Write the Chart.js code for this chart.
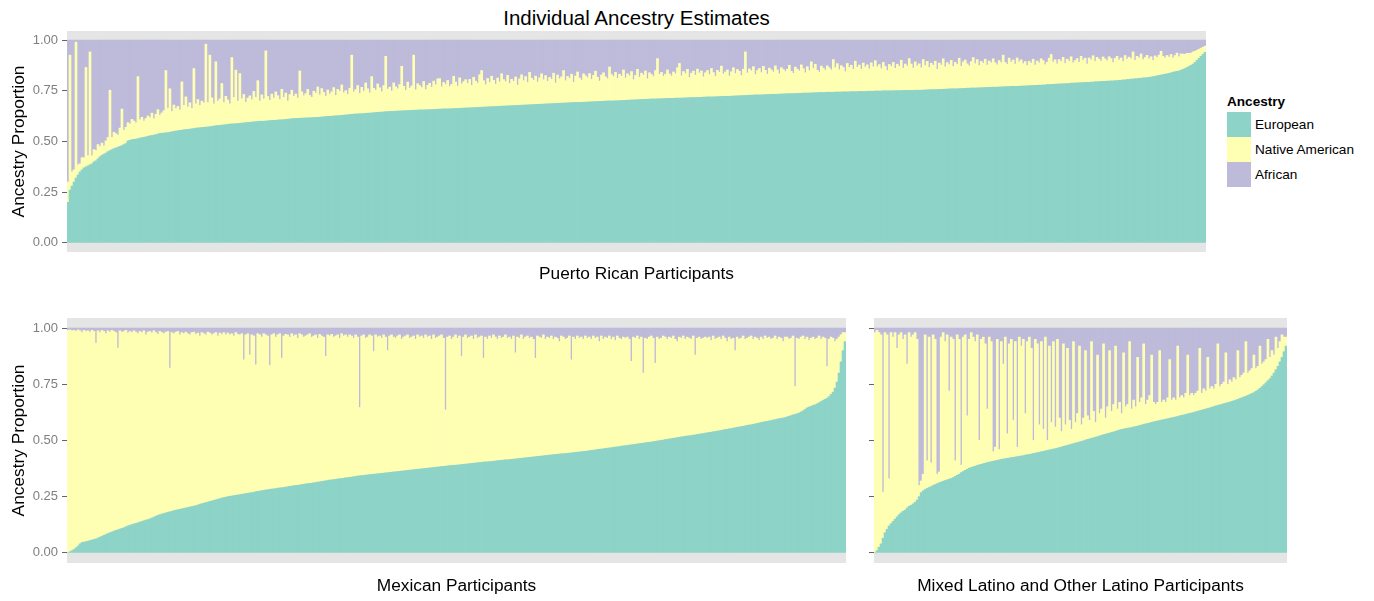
<!DOCTYPE html>
<html><head><meta charset="utf-8">
<script src="https://cdn.jsdelivr.net/npm/chart.js@4/dist/chart.umd.min.js"></script>
<style>
html,body{margin:0;padding:0;background:#fff;width:1374px;height:601px;overflow:hidden;font-family:"Liberation Sans",Arial,sans-serif;}
.box{position:absolute;}
.box canvas{display:block;}
#title{position:absolute;left:0;width:1273px;top:6px;text-align:center;font-size:20.5px;line-height:24px;color:#000;}
.lg{position:absolute;font-size:13.6px;line-height:16px;color:#000;white-space:nowrap;}
.key{position:absolute;left:1227px;width:24px;height:25px;}
</style></head><body>
<div id="title">Individual Ancestry Estimates</div>
<div class="box" style="left:0;top:31px;width:1206px;height:261px"><canvas id="cPR"></canvas></div>
<div class="box" style="left:0;top:318px;width:846px;height:285px"><canvas id="cMX"></canvas></div>
<div class="box" style="left:846px;top:318px;width:441px;height:285px"><canvas id="cML"></canvas></div>
<div id="legend"></div>
<script>
// ---------- DATA ----------
const ancestryLabels = ['European', 'Native American', 'African'];
const ancestryColors = ['#8DD3C7', '#FFFFB3', '#BEBADA'];
const yTickValues = [0, 0.25, 0.5, 0.75, 1];
const panelTitles = ['Puerto Rican Participants', 'Mexican Participants', 'Mixed Latino and Other Latino Participants'];

// Puerto Rican participants (sorted by European ancestry)
const prEuropean = [
.20,.26,.28,.30,.32,.335,.35,.36,.37,.375,.38,.385,.39,.40,.405,.415,.425,.432,.438,.443,
.45,.455,.46,.465,.468,.472,.476,.48,.485,.49,.503,.506,.509,.511,.512,.514,.517,.519,.521,.523,
.526,.528,.53,.532,.534,.537,.54,.541,.542,.543,.544,.546,.548,.55,.552,.553,.555,.556,.558,.559,
.56,.561,.563,.564,.566,.567,.568,.569,.57,.571,.572,.573,.575,.576,.578,.579,.58,.581,.582,.583,
.585,.586,.587,.587,.588,.589,.59,.591,.592,.593,.594,.595,.596,.597,.598,.599,.6,.6,.6,.601,
.602,.603,.604,.604,.605,.606,.607,.607,.608,.609,.61,.611,.613,.613,.614,.614,.615,.615,.616,.616,
.617,.617,.618,.618,.619,.619,.62,.621,.622,.623,.624,.624,.625,.626,.627,.627,.628,.629,.63,.631,
.632,.633,.634,.635,.636,.636,.637,.637,.638,.639,.64,.64,.641,.642,.643,.644,.645,.645,.646,.647,
.648,.648,.649,.649,.65,.65,.651,.651,.652,.652,.653,.653,.654,.654,.655,.655,.656,.656,.656,.656,
.657,.657,.658,.658,.659,.659,.66,.66,.661,.661,.661,.661,.662,.662,.663,.663,.664,.664,.665,.665,
.666,.666,.667,.667,.668,.668,.669,.669,.67,.67,.671,.671,.672,.672,.673,.673,.674,.674,.675,.675,
.676,.676,.677,.677,.678,.678,.679,.679,.68,.68,.681,.681,.682,.682,.683,.683,.684,.684,.685,.685,
.686,.686,.687,.687,.688,.688,.689,.689,.69,.69,.691,.691,.692,.692,.693,.693,.693,.693,.694,.694,
.695,.695,.696,.696,.697,.697,.698,.698,.699,.699,.7,.7,.7,.7,.701,.701,.702,.702,.703,.703,
.704,.704,.705,.705,.706,.706,.707,.707,.708,.708,.709,.709,.71,.71,.71,.71,.711,.711,.712,.712,
.713,.713,.713,.713,.714,.714,.714,.714,.715,.715,.716,.716,.717,.717,.717,.717,.718,.718,.719,.719,
.72,.72,.72,.72,.721,.721,.722,.722,.723,.723,.723,.723,.724,.724,.725,.725,.726,.726,.727,.727,
.728,.728,.729,.729,.73,.73,.73,.73,.731,.731,.732,.732,.733,.733,.733,.733,.734,.734,.735,.735,
.736,.736,.736,.736,.737,.737,.738,.738,.739,.739,.739,.739,.74,.74,.741,.741,.742,.742,.742,.742,
.743,.743,.743,.743,.744,.744,.744,.744,.745,.745,.745,.745,.746,.746,.746,.746,.747,.747,.747,.747,
.748,.748,.748,.748,.749,.749,.749,.749,.75,.75,.75,.75,.75,.75,.751,.751,.751,.751,.752,.752,
.752,.752,.752,.752,.753,.753,.753,.753,.754,.754,.755,.755,.756,.756,.756,.756,.757,.757,.758,.758,
.759,.759,.76,.76,.76,.76,.761,.761,.762,.762,.763,.763,.764,.764,.764,.764,.765,.765,.766,.766,
.767,.767,.768,.768,.768,.768,.769,.769,.77,.77,.771,.771,.772,.772,.772,.772,.773,.773,.774,.774,
.775,.775,.776,.776,.777,.777,.778,.778,.779,.779,.781,.781,.782,.782,.783,.783,.784,.784,.785,.785,
.786,.786,.788,.788,.789,.789,.79,.79,.791,.791,.792,.792,.793,.793,.795,.795,.796,.796,.797,.797,
.798,.798,.799,.799,.8,.8,.802,.802,.804,.804,.806,.806,.808,.808,.81,.81,.812,.812,.814,.814,
.815,.817,.818,.82,.822,.824,.826,.828,.83,.832,.834,.836,.839,.842,.844,.846,.848,.852,.856,.86,
.865,.87,.876,.882,.89,.90,.91,.92,.93,.94];
const prNative = [
.10,.666,.07,.06,.67,.05,.04,.06,.05,.49,.05,.557,.04,.06,.05,.07,.05,.06,.04,.06,
.07,.298,.06,.08,.07,.06,.09,.18,.07,.08,.09,.08,.10,.09,.08,.306,.09,.10,.08,.09,
.10,.09,.11,.08,.10,.12,.09,.10,.11,.307,.12,.214,.10,.13,.11,.12,.10,.238,.12,.161,
.11,.13,.10,.296,.12,.14,.11,.13,.12,.409,.12,.353,.14,.11,.315,.12,.13,.205,.11,.14,
.12,.10,.327,.13,.264,.11,.245,.12,.14,.10,.12,.13,.11,.15,.12,.201,.10,.13,.11,.346,
.12,.10,.13,.11,.14,.12,.10,.15,.11,.13,.09,.12,.14,.11,.12,.10,.233,.13,.11,.12,
.14,.11,.10,.13,.12,.15,.11,.14,.12,.10,.13,.11,.12,.14,.10,.13,.12,.15,.11,.12,
.10,.13,.292,.11,.12,.14,.10,.13,.11,.15,.12,.10,.179,.12,.11,.14,.12,.10,.13,.273,
.11,.12,.10,.14,.12,.11,.13,.22,.12,.10,.14,.11,.12,.272,.10,.13,.12,.11,.14,.10,
.12,.13,.11,.14,.12,.15,.15,.11,.13,.12,.14,.11,.12,.16,.13,.11,.15,.12,.13,.14,
.12,.14,.11,.15,.13,.12,.16,.181,.13,.11,.14,.12,.15,.13,.11,.14,.12,.16,.13,.12,
.15,.11,.13,.12,.14,.10,.13,.15,.12,.14,.11,.16,.13,.12,.14,.11,.13,.15,.12,.14,
.11,.13,.12,.15,.10,.14,.12,.13,.16,.11,.13,.12,.14,.10,.13,.15,.12,.11,.14,.13,
.12,.14,.11,.13,.15,.12,.10,.13,.14,.12,.11,.168,.13,.12,.14,.11,.13,.12,.15,.11,
.13,.12,.14,.10,.12,.15,.11,.13,.12,.14,.10,.13,.12,.11,.14,.199,.12,.13,.11,.12,
.14,.12,.11,.13,.12,.15,.171,.11,.13,.12,.14,.10,.12,.13,.11,.14,.12,.13,.10,.12,
.13,.11,.14,.12,.10,.13,.12,.15,.11,.12,.13,.10,.12,.14,.11,.13,.12,.10,.13,.215,
.11,.13,.12,.14,.10,.12,.13,.11,.14,.12,.10,.13,.12,.11,.14,.12,.10,.13,.12,.11,
.12,.14,.11,.10,.13,.12,.11,.14,.12,.10,.13,.11,.153,.12,.14,.11,.10,.13,.12,.11,
.13,.12,.11,.161,.12,.14,.11,.13,.12,.10,.14,.12,.13,.11,.15,.12,.13,.11,.14,.12,
.13,.11,.14,.12,.15,.12,.13,.11,.14,.12,.10,.13,.12,.14,.11,.13,.12,.15,.11,.13,
.12,.157,.13,.11,.14,.12,.13,.11,.15,.12,.14,.11,.13,.12,.14,.10,.13,.12,.15,.11,
.13,.12,.14,.11,.13,.12,.15,.11,.13,.14,.12,.11,.13,.15,.12,.14,.11,.13,.12,.14,
.11,.13,.12,.14,.12,.11,.13,.12,.156,.12,.11,.14,.12,.13,.11,.14,.12,.13,.11,.12,
.10,.12,.11,.13,.10,.12,.11,.13,.12,.10,.11,.13,.147,.11,.12,.10,.12,.11,.13,.10,
.12,.11,.13,.10,.11,.12,.10,.13,.11,.12,.09,.12,.11,.13,.10,.12,.11,.10,.12,.11,
.10,.12,.11,.09,.11,.12,.10,.11,.09,.12,.10,.11,.10,.134,.09,.11,.10,.12,.09,.10,
.11,.09,.10,.08,.10,.09,.10,.117,.09,.08,.09,.08,.09,.07,.08,.09,.07,.08,.075,.07,
.07,.065,.06,.06,.055,.05,.045,.04,.035,.03];

// Mexican participants
const mxEuropean = [
.0,.005,.01,.015,.022,.03,.04,.046,.048,.05,.052,.055,.057,.06,.062,.066,.07,.074,.078,.082,
.086,.09,.093,.097,.1,.103,.106,.109,.112,.116,.12,.123,.126,.129,.131,.134,.137,.14,.143,.146,
.148,.151,.155,.159,.163,.167,.17,.173,.175,.178,.18,.183,.185,.188,.19,.192,.194,.196,.198,.2,
.202,.204,.206,.208,.21,.213,.216,.219,.221,.224,.226,.229,.231,.234,.236,.239,.241,.244,.246,.248,
.25,.252,.253,.255,.256,.258,.259,.261,.262,.264,.265,.267,.268,.27,.272,.274,.275,.277,.278,.28,
.281,.283,.284,.285,.286,.288,.289,.29,.291,.293,.294,.296,.297,.299,.3,.301,.302,.304,.305,.307,
.308,.309,.31,.312,.313,.315,.316,.318,.319,.321,.322,.324,.325,.326,.327,.329,.33,.331,.332,.334,
.335,.336,.337,.339,.34,.342,.343,.344,.345,.346,.347,.348,.349,.35,.351,.352,.353,.354,.355,.356,
.357,.358,.359,.36,.361,.362,.363,.364,.365,.366,.367,.368,.369,.37,.371,.372,.373,.374,.375,.376,
.377,.378,.379,.38,.381,.382,.383,.384,.385,.386,.387,.388,.389,.39,.39,.391,.392,.393,.394,.395,
.396,.397,.398,.399,.4,.401,.402,.403,.404,.405,.405,.406,.407,.408,.409,.41,.411,.412,.413,.414,
.414,.415,.416,.417,.418,.419,.42,.421,.422,.423,.424,.425,.426,.427,.428,.429,.43,.431,.432,.433,
.434,.435,.436,.437,.438,.439,.44,.441,.441,.442,.443,.444,.445,.446,.447,.448,.449,.45,.451,.452,
.453,.455,.456,.457,.458,.46,.461,.462,.463,.465,.466,.467,.468,.47,.471,.472,.473,.475,.476,.477,
.478,.48,.481,.482,.483,.485,.486,.487,.488,.49,.491,.492,.493,.495,.496,.498,.499,.501,.502,.504,
.505,.507,.508,.51,.511,.513,.514,.516,.517,.519,.52,.521,.522,.524,.525,.527,.528,.53,.531,.533,
.534,.536,.537,.539,.54,.542,.543,.545,.547,.549,.55,.552,.553,.555,.557,.559,.56,.562,.563,.565,
.567,.569,.57,.572,.574,.576,.578,.58,.582,.584,.585,.587,.589,.591,.593,.595,.597,.599,.6,.602,
.605,.608,.611,.614,.616,.619,.622,.627,.632,.638,.645,.649,.652,.656,.659,.663,.668,.673,.678,.683,
.688,.695,.705,.715,.733,.76,.80,.85,.90,.94];
const mxAfrican = [
.01,.008,.012,.01,.015,.008,.012,.02,.01,.015,.012,.018,.01,.015,.067,.012,.02,.01,.015,.025,
.012,.018,.01,.015,.02,.089,.012,.018,.015,.01,.022,.015,.02,.012,.018,.025,.015,.02,.012,.03,
.018,.015,.022,.012,.02,.028,.015,.02,.025,.018,.015,.178,.02,.025,.018,.015,.03,.02,.025,.018,
.025,.03,.02,.018,.028,.022,.035,.02,.025,.03,.018,.022,.03,.025,.02,.035,.022,.028,.02,.03,
.022,.03,.025,.035,.02,.028,.03,.025,.141,.03,.025,.119,.03,.035,.163,.025,.03,.04,.025,.03,
.035,.166,.03,.025,.04,.03,.025,.134,.035,.028,.03,.04,.025,.035,.03,.045,.025,.03,.04,.035,
.03,.025,.04,.035,.03,.045,.028,.035,.04,.126,.03,.035,.028,.04,.035,.03,.045,.025,.035,.03,
.04,.03,.035,.045,.03,.04,.353,.035,.03,.045,.04,.03,.035,.104,.03,.04,.035,.045,.03,.04,
.10,.035,.03,.04,.045,.035,.03,.05,.04,.035,.03,.045,.04,.035,.05,.03,.04,.035,.045,.03,
.04,.035,.05,.03,.045,.04,.035,.03,.045,.364,.04,.035,.05,.04,.03,.045,.035,.126,.04,.03,
.045,.04,.035,.05,.03,.045,.04,.035,.134,.04,.05,.035,.045,.03,.04,.05,.035,.045,.04,.03,
.045,.04,.05,.035,.11,.04,.045,.03,.05,.04,.035,.045,.04,.05,.134,.035,.04,.045,.03,.05,
.04,.045,.035,.05,.04,.045,.06,.035,.04,.05,.045,.035,.141,.04,.05,.035,.045,.04,.05,.035,
.045,.04,.05,.035,.045,.04,.06,.035,.05,.04,.045,.035,.05,.04,.055,.035,.045,.05,.04,.045,
.04,.05,.148,.04,.045,.035,.05,.04,.20,.045,.05,.04,.035,.045,.156,.04,.05,.045,.035,.04,
.05,.04,.045,.035,.05,.06,.04,.045,.035,.05,.04,.045,.05,.035,.12,.045,.04,.05,.045,.04,
.045,.04,.055,.035,.05,.045,.04,.05,.035,.045,.06,.04,.05,.045,.10,.04,.05,.045,.035,.05,
.045,.04,.035,.05,.04,.045,.055,.04,.05,.035,.045,.04,.05,.045,.035,.05,.04,.045,.06,.04,
.04,.05,.045,.035,.26,.045,.05,.04,.035,.05,.04,.055,.045,.04,.05,.045,.035,.05,.04,.045,
.171,.05,.04,.045,.06,.05,.04,.03,.02,.02];

// Mixed Latino and other Latino participants
const mlEuropean = [
.0,.01,.025,.04,.065,.09,.105,.12,.13,.14,.15,.16,.17,.178,.185,.19,.2,.207,.212,.218,
.225,.235,.25,.268,.276,.282,.287,.291,.295,.3,.304,.308,.312,.315,.319,.322,.325,.328,.331,.335,
.34,.345,.35,.357,.362,.367,.372,.377,.38,.383,.386,.389,.392,.394,.397,.399,.402,.404,.406,.408,
.41,.412,.414,.416,.418,.419,.421,.422,.424,.425,.427,.428,.43,.431,.433,.435,.437,.438,.44,.442,
.444,.446,.448,.45,.452,.454,.456,.458,.46,.462,.464,.466,.469,.471,.474,.476,.479,.481,.484,.486,
.489,.491,.494,.496,.499,.502,.505,.507,.51,.512,.515,.517,.52,.523,.526,.528,.531,.533,.536,.538,
.541,.544,.547,.549,.551,.553,.555,.556,.558,.56,.562,.564,.567,.569,.572,.574,.576,.578,.581,.583,
.585,.587,.589,.591,.593,.595,.597,.599,.601,.603,.605,.607,.61,.612,.614,.616,.619,.621,.623,.625,
.628,.63,.633,.635,.638,.64,.643,.645,.648,.651,.654,.656,.659,.661,.664,.666,.669,.671,.674,.677,
.68,.683,.687,.69,.694,.697,.701,.705,.709,.713,.719,.725,.732,.74,.748,.757,.766,.775,.787,.8,
.815,.83,.85,.87,.895,.92];
const mlAfrican = [
.02,.01,.02,.03,.73,.02,.03,.67,.02,.04,.02,.09,.03,.02,.05,.03,.16,.02,.04,.03,
.02,.05,.70,.68,.65,.03,.59,.04,.60,.03,.05,.65,.64,.04,.02,.06,.03,.28,.04,.05,
.59,.03,.05,.61,.04,.03,.39,.05,.02,.04,.06,.03,.50,.05,.04,.07,.36,.04,.06,.55,
.53,.05,.54,.06,.16,.04,.47,.07,.05,.41,.06,.53,.04,.08,.05,.38,.06,.04,.09,.50,
.05,.07,.43,.06,.45,.04,.50,.08,.42,.06,.44,.05,.40,.46,.07,.43,.09,.41,.45,.06,
.42,.38,.08,.43,.40,.10,.39,.41,.06,.37,.42,.12,.38,.36,.07,.40,.35,.10,.37,.34,
.08,.36,.33,.38,.11,.35,.34,.06,.36,.32,.35,.13,.33,.31,.07,.34,.32,.30,.12,.33,
.34,.33,.10,.33,.32,.33,.31,.14,.32,.31,.32,.08,.31,.30,.31,.29,.12,.30,.29,.30,
.29,.28,.09,.29,.27,.28,.13,.27,.26,.27,.25,.07,.26,.25,.24,.11,.25,.23,.24,.22,
.23,.10,.22,.21,.20,.06,.20,.19,.18,.12,.18,.17,.08,.16,.15,.14,.05,.13,.10,.12,
.04,.09,.06,.03,.04,.04];

// ---------- CHARTS ----------
const FONT = '"Liberation Sans", Arial, sans-serif';
Chart.defaults.font.family = FONT;

const panelBg = {
  id: 'panelBg',
  beforeDraw(chart) {
    const {ctx, chartArea: a} = chart;
    ctx.save();
    ctx.fillStyle = '#E5E5E5';
    ctx.fillRect(a.left, a.top, a.right - a.left, a.bottom - a.top);
    ctx.restore();
  }
};

function remainder(a, b) {
  return a.map((v, i) => Math.max(0, +(1 - v - b[i]).toFixed(3)));
}

function makePanel(id, eur, nat, afr, o) {
  const labels = eur.map((_, i) => i + 1);
  const series = [eur, nat, afr];
  return new Chart(document.getElementById(id), {
    type: 'bar',
    data: {
      labels,
      datasets: series.map((d, k) => ({
        label: ancestryLabels[k],
        data: d,
        backgroundColor: ancestryColors[k],
        borderWidth: 0,
        barPercentage: 1,
        categoryPercentage: 1
      }))
    },
    options: {
      responsive: true,
      maintainAspectRatio: false,
      animation: false,
      events: [],
      layout: { padding: 0 },
      plugins: { legend: { display: false }, tooltip: { enabled: false }, title: { display: false } },
      scales: {
        x: {
          stacked: true,
          grid: { display: false, drawTicks: false },
          border: { display: false },
          ticks: { display: false },
          title: { display: true, text: o.xTitle, color: '#000', font: { size: 17.3 }, padding: { top: 0, bottom: o.xPad } },
          afterFit: s => { s.height = 40; s.paddingLeft = 0; s.paddingRight = 0; }
        },
        y: {
          stacked: true,
          min: -0.045,
          max: 1.045,
          afterBuildTicks: s => { s.ticks = yTickValues.map(v => ({ value: v })); },
          afterFit: s => { s.width = o.axisWidth; s.paddingTop = 0; s.paddingBottom = 0; },
          ticks: {
            display: o.showLabels,
            color: '#7F7F7F',
            font: { size: 13 },
            padding: 4,
            callback: v => Number(v).toFixed(2)
          },
          grid: { display: true, drawOnChartArea: false, drawTicks: true, tickLength: 5, tickColor: '#666666', tickWidth: 1 },
          border: { display: false },
          title: { display: o.showYTitle, text: 'Ancestry Proportion', color: '#000', font: { size: 17.3 }, padding: { top: 8.6, bottom: 0 } }
        }
      }
    },
    plugins: [panelBg]
  });
}

makePanel('cPR', prEuropean, prNative, remainder(prEuropean, prNative),
  { xTitle: panelTitles[0], xPad: 7.6, axisWidth: 67, showLabels: true, showYTitle: true });
makePanel('cMX', mxEuropean, remainder(mxEuropean, mxAfrican), mxAfrican,
  { xTitle: panelTitles[1], xPad: 6.6, axisWidth: 67, showLabels: true, showYTitle: true });
makePanel('cML', mlEuropean, remainder(mlEuropean, mlAfrican), mlAfrican,
  { xTitle: panelTitles[2], xPad: 6.6, axisWidth: 28, showLabels: false, showYTitle: false });

// ---------- LEGEND ----------
const lg = document.getElementById('legend');
let html = '<div class="lg" style="left:1227px;top:94px;font-weight:bold;">Ancestry</div>';
ancestryLabels.forEach((name, k) => {
  const top = 112 + k * 25;
  html += '<div class="key" style="top:' + top + 'px;background:' + ancestryColors[k] + '"></div>';
  html += '<div class="lg" style="left:1255px;top:' + (top + 4.5) + 'px;">' + name + '</div>';
});
lg.innerHTML = html;
</script>
</body></html>
